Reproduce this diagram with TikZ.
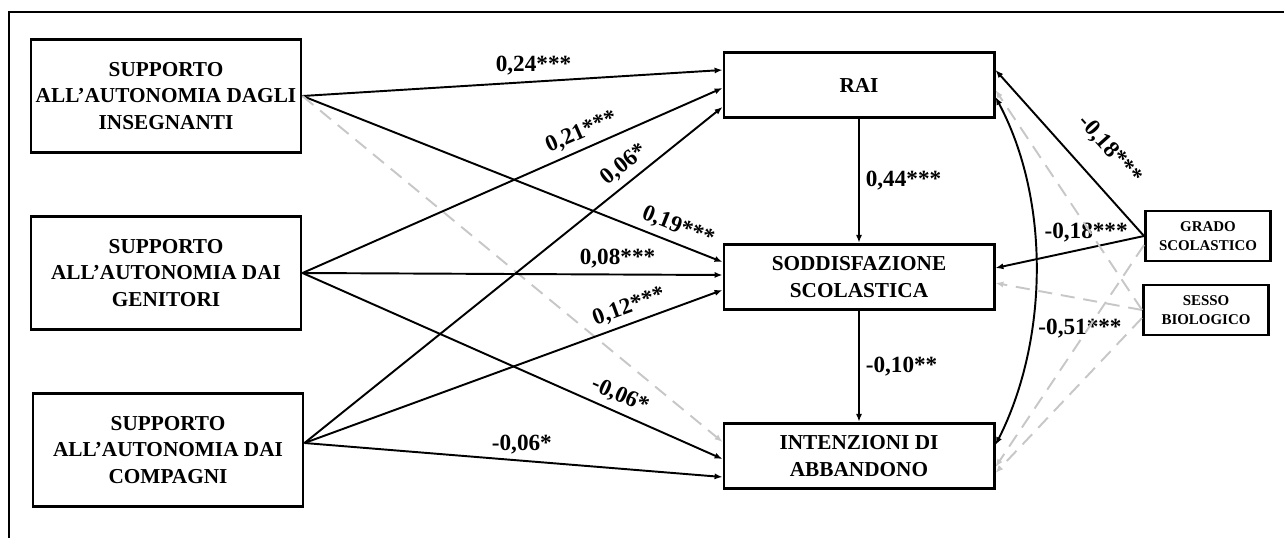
\documentclass[tikz,border=0pt]{standalone}
\usepackage{fontspec}
\setmainfont{Liberation Serif}
\usetikzlibrary{arrows.meta}
\tikzstyle{varbox}=[draw, line width=1.7pt, minimum width=5.4cm, minimum height=2.26cm, inner sep=0pt, align=center, font=\bfseries\fontsize{12.1}{15}\selectfont]
\tikzstyle{midbox}=[varbox, minimum height=1.31cm]
\tikzstyle{smallbox}=[varbox, minimum width=2.5cm, minimum height=1.0cm, font=\bfseries\fontsize{8.5}{10.4}\selectfont]
\tikzstyle{arr}=[line width=1.1pt, -{Latex[length=4.5pt,width=3.5pt]}]
\tikzstyle{nsarr}=[arr, black!22, dash pattern=on 8pt off 5pt]
\tikzstyle{corr}=[line width=1.1pt, {Latex[length=4.5pt,width=3.5pt]}-{Latex[length=4.5pt,width=3.5pt]}]
\tikzstyle{coef}=[font=\bfseries\fontsize{13.2}{15}\selectfont]

\begin{document}
\begin{tikzpicture}
            \useasboundingbox (0,0) rectangle (25.68,-10.76);
            %%%%% cornice
            \draw[line width=1.1pt] (25.68,-0.24) -- (0.18,-0.24) -- (0.18,-10.76);

            %%%%% supporti
            \node[varbox] (ins) at (3.32,-1.92) {SUPPORTO\\ALL'AUTONOMIA DAGLI\\INSEGNANTI};
            \node[varbox] (gen) at (3.32,-5.46) {SUPPORTO\\ALL'AUTONOMIA DAI\\GENITORI};
            \node[varbox] (comp) at (3.36,-9.0) {SUPPORTO\\ALL'AUTONOMIA DAI\\COMPAGNI};
            %%%%% mediatori ed esito
            \node[midbox] (rai) at (17.18,-1.70) {RAI};
            \node[midbox] (sod) at (17.18,-5.54) {SODDISFAZIONE\\SCOLASTICA};
            \node[midbox] (int) at (17.18,-9.12) {INTENZIONI DI\\ABBANDONO};
            %%%%% controlli
            \node[smallbox] (grado) at (24.16,-4.72) {GRADO\\SCOLASTICO};
            \node[smallbox] (sesso) at (24.12,-6.20) {SESSO\\BIOLOGICO};

            %%%%% insegnanti
            \draw[arr] (ins.east) -- ([yshift=0.30cm]rai.west) node[coef, pos=0.55, above] {0,24***};
            \draw[arr] (ins.east) -- ([yshift=0.30cm]sod.west) node[coef, pos=0.88, above, sloped] {0,19***};
            \draw[nsarr] (ins.east) -- ([yshift=0.28cm]int.west);
            %%%%% genitori
            \draw[arr] (gen.east) -- ([yshift=-0.06cm]rai.west) node[coef, pos=0.68, above, sloped] {0,21***};
            \draw[arr] (gen.east) -- ([yshift=0.04cm]sod.west) node[coef, pos=0.75, above] {0,08***};
            \draw[arr] (gen.east) -- ([yshift=-0.06cm]int.west) node[coef, pos=0.74, above, sloped] {-0,06*};
            %%%%% compagni
            \draw[arr] ([yshift=0.14cm]comp.east) -- ([yshift=-0.44cm]rai.west) node[coef, pos=0.79, above, sloped] {0,06*};
            \draw[arr] ([yshift=0.14cm]comp.east) -- ([yshift=-0.26cm]sod.west) node[coef, pos=0.79, above, sloped] {0,12***};
            \draw[arr] ([yshift=0.14cm]comp.east) -- ([yshift=-0.42cm]int.west) node[coef, pos=0.52, above] {-0,06*};
            %%%%% catena centrale
            \draw[arr] (rai) -- (sod) node[coef, midway, right] {0,44***};
            \draw[arr] (sod) -- (int) node[coef, midway, right] {-0,10**};
            \draw[corr] ([yshift=-0.24cm]rai.east) .. controls +(1.1,-2.06) and +(1.06,2.1) .. ([yshift=0.22cm]int.east) node[coef, pos=0.66, right] {-0,51***};
            %%%%% controlli
            \draw[arr] (grado.west) -- ([yshift=0.30cm]rai.east) node[coef, pos=0.39, above=9pt, sloped] {-0,18***};
            \draw[arr] (grado.west) -- ([yshift=0.18cm]sod.east) node[coef, pos=0.39, above] {-0,18***};
            \draw[nsarr] (sesso.west) -- ([yshift=-0.10cm]rai.east);
            \draw[nsarr] (sesso.west) -- ([yshift=-0.12cm]sod.east);
            \draw[nsarr] ([yshift=-0.18cm]grado.west) -- ([yshift=-0.22cm]int.east);
            \draw[nsarr] ([yshift=-0.16cm]sesso.west) -- ([yshift=-0.34cm]int.east);
\end{tikzpicture}
\end{document}
